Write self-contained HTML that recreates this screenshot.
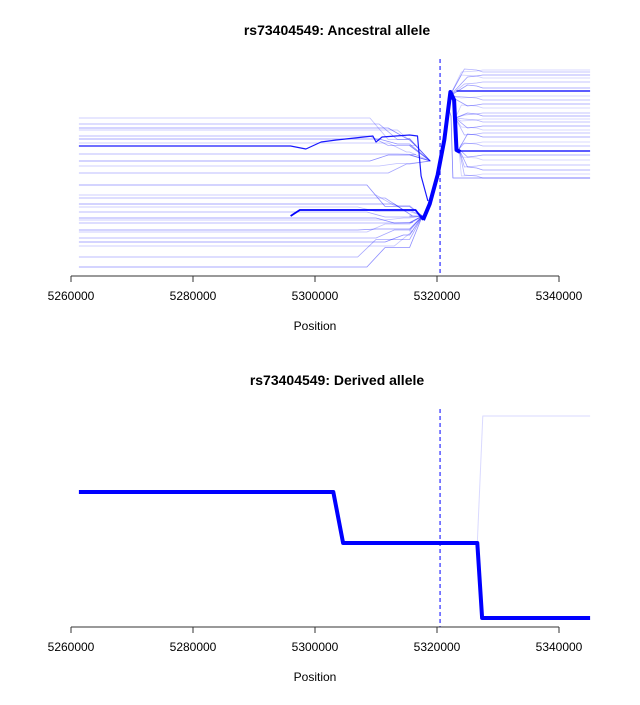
<!DOCTYPE html>
<html><head><meta charset="utf-8"><style>
body{margin:0;background:#fff;font-family:"Liberation Sans",sans-serif}
svg text{font-family:"Liberation Sans",sans-serif}
</style></head><body>
<svg id="c" width="640" height="700" xmlns="http://www.w3.org/2000/svg">
<rect width="640" height="700" fill="#fff"/>
</svg>
<script>
const ticks=[5260000,5280000,5300000,5320000,5340000];
const markerPos=5320500;
// top panel: left lines heights (v = 276 - y)
const leftH=[158,152,148,146,140,137,133,122,115,110,103,91,81,78,72,69,64,58,56,53,46,44,38,34,30,19,9];
const leftDark=[130];
const leftThick=[66];
const rightH=[206,204,201,198,194,188,180,176,172,168,163,160,157,154,150,146,143,139,134,130,121,116,111,106,102,98];
const rightDark=[185,125];
const trunkPos=[5317700,5318800,5320100,5321200,5322200,5322800,5323200,5323800];
const trunkH=[56,72,101,136,184,176,126,124];
// bottom panel
const botPos=[5261300,5303000,5304600,5326600,5327400,5345100];
const botH=[135,135,84,84,9,9];
const botLightPos=[5326600,5327500,5345100];
const botLightH=[84,211,211];

const svg=document.getElementById('c');
const NS='http://www.w3.org/2000/svg';
const xs=p=>71+(p-5260000)*122/20000;
function el(t,a,parent){const e=document.createElementNS(NS,t);for(const k in a)e.setAttribute(k,a[k]);(parent||svg).appendChild(e);return e;}
function path(g,pts,ys,w,col,op){
  const d=pts.map((p,i)=>(i?'L':'M')+xs(p[0]).toFixed(1)+','+ys(p[1]).toFixed(1)).join(' ');
  const e=el('path',{d:d,fill:'none',stroke:col,'stroke-width':w,'stroke-opacity':op,'stroke-linejoin':'round'},g);
  return e;
}
function axis(y0,title,titleY){
  const g=el('g',{});
  
  
  el('line',{x1:xs(ticks[0]),x2:xs(ticks[ticks.length-1]),y1:y0,y2:y0,stroke:'#333'},g);
  ticks.forEach(t=>{
    el('line',{x1:xs(t),x2:xs(t),y1:y0,y2:y0+6,stroke:'#333'},g);
    const tx=el('text',{x:xs(t),y:y0+24,'font-size':12,'text-anchor':'middle'},g);
    
    
    tx.textContent=t;
  });
  const at=el('text',{x:315,y:y0+54,'font-size':12,'text-anchor':'middle'},g);
  
  
  at.textContent='Position';
  const tt=el('text',{x:337,y:titleY,'font-size':14,'font-weight':'bold','text-anchor':'middle'});
  
  
  tt.textContent=title;
}
// TOP
const ysT=v=>276-v;
const gT=el('g',{});


leftH.forEach((h,i)=>{
  const up=h>95;
  const j=up?[5318900,115]:[5317600,60];
  const bend=up?5309000+ (i%4)*1500:5307000+(i%5)*1500;
  const mid=up?(h+j[1])/2+ (i%3)*3:(h+j[1])/2-(i%3)*3;
  const e=path(gT,[[5261300,h],[bend,h],[bend+3000,mid],[5315500,mid],j],ysT,0.8,'#0000ff',0.25+0.1*(i%3));
  
  
});
leftDark.forEach(h=>{
  const e=path(gT,[[5261300,h],[5296000,h],[5298500,127],[5301000,134],[5303500,136],[5309500,140],[5310000,134],[5311000,139],[5315500,141],[5316800,140],[5317400,100],[5318500,75]],ysT,1.2,'#0000ff',0.9);
  
  
});
leftThick.forEach(h=>{
  const e=path(gT,[[5296000,h-6],[5297500,h],[5311000,h],[5316500,h],[5317700,56]],ysT,1.8,'#0000ff',1);
  
  
});
rightH.forEach((h,i)=>{
  const up=h>170;
  const j=up?[5322100,180]:(h>140?[5323000,158]:[5323600,127]);
  const e=path(gT,[j,[5324000+(i%3)*500,h+(i%2?3:-2)],[5326500,h+(i%2?2:-1)],[5327500,h],[5345100,h]],ysT,0.8,'#0000ff',0.2+0.1*(i%3));
  
  
});
rightDark.forEach(h=>{
  const e=path(gT,[[5323200,h],[5327000,h],[5345100,h]],ysT,1.5,'#0000ff',0.85);
  
  
});
{
  const e=path(gT,[[5321700,171],[5322300,160],[5322600,98],[5345100,98]],ysT,0.8,'#0000ff',0.5);
  
  
}
{
  const e=path(gT,trunkPos.map((p,i)=>[p,trunkH[i]]),ysT,4,'#0000ff',1);
  
  
}
{
  const e=el('line',{x1:xs(markerPos),x2:xs(markerPos),y1:59,y2:276,stroke:'#0000ff','stroke-dasharray':'4,3','stroke-width':1});
  
  
}
axis(276,'rs73404549: Ancestral allele',35);
// BOTTOM
const ysB=v=>627-v;
const gB=el('g',{});


{
  const e=path(gB,botLightPos.map((p,i)=>[p,botLightH[i]]),ysB,1,'#0000ff',0.15);
  
  
  const e2=path(gB,botPos.map((p,i)=>[p,botH[i]]),ysB,4,'#0000ff',1);
  
  
  const m=el('line',{x1:xs(markerPos),x2:xs(markerPos),y1:409,y2:627,stroke:'#0000ff','stroke-dasharray':'4,3','stroke-width':1});
  
  
}
axis(627,'rs73404549: Derived allele',385);
</script>
</body></html>
